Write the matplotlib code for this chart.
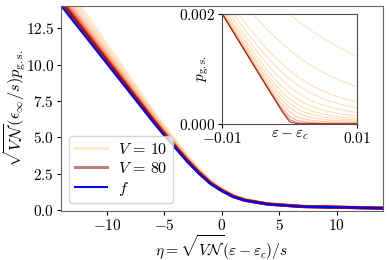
import numpy as np
import matplotlib
matplotlib.use("Agg")
import matplotlib.pyplot as plt

plt.rcParams["mathtext.fontset"] = "cm"
plt.rcParams["font.family"] = "serif"
plt.rcParams["font.serif"] = ["cmr10", "DejaVu Serif"]
plt.rcParams["axes.formatter.use_mathtext"] = True
plt.rcParams["font.size"] = 11

# main panel: eta grid and scaling function f
eta = [-14, -12, -10, -8, -6, -5, -4, -3, -2, -1, 0, 1, 2, 4, 7, 14]
f_vals = [14.05, 12.05, 10.05, 8.05, 6.05, 5.1, 4.2, 3.3, 2.5, 1.8, 1.3, 0.9, 0.65, 0.39, 0.23, 0.12]

# finite-V curves, light (V=10) to dark (V=80)
V_list = [10, 13, 17, 22, 28, 35, 44, 55, 67, 80]
y_V = [
    [15.88, 13.62, 11.36, 9.10, 6.84, 5.76, 4.75, 3.73, 2.83, 2.03, 1.47, 1.02, 0.73, 0.44, 0.26, 0.14],
    [15.46, 13.26, 11.06, 8.86, 6.66, 5.61, 4.62, 3.63, 2.75, 1.98, 1.43, 0.99, 0.72, 0.43, 0.25, 0.13],
    [15.12, 12.97, 10.82, 8.67, 6.51, 5.49, 4.52, 3.55, 2.69, 1.94, 1.40, 0.97, 0.70, 0.42, 0.25, 0.13],
    [14.88, 12.76, 10.64, 8.52, 6.41, 5.40, 4.45, 3.49, 2.65, 1.91, 1.38, 0.95, 0.69, 0.41, 0.24, 0.13],
    [14.70, 12.60, 10.51, 8.42, 6.33, 5.33, 4.39, 3.45, 2.62, 1.88, 1.36, 0.94, 0.68, 0.41, 0.24, 0.13],
    [14.57, 12.50, 10.42, 8.35, 6.27, 5.29, 4.36, 3.42, 2.59, 1.87, 1.35, 0.93, 0.67, 0.40, 0.24, 0.12],
    [14.46, 12.41, 10.35, 8.29, 6.23, 5.25, 4.32, 3.40, 2.57, 1.85, 1.34, 0.93, 0.67, 0.40, 0.24, 0.12],
    [14.38, 12.33, 10.29, 8.24, 6.19, 5.22, 4.30, 3.38, 2.56, 1.84, 1.33, 0.92, 0.67, 0.40, 0.24, 0.12],
    [14.32, 12.28, 10.24, 8.21, 6.17, 5.20, 4.28, 3.36, 2.55, 1.83, 1.33, 0.92, 0.66, 0.40, 0.23, 0.12],
    [14.28, 12.25, 10.21, 8.18, 6.15, 5.18, 4.27, 3.35, 2.54, 1.83, 1.32, 0.91, 0.66, 0.40, 0.23, 0.12],
]

# inset: p_gs (units of 1e-4) vs eps - eps_c (units of 1e-3)
d_eps = [-10, -7.5, -5, -3.5, -2, -1, 0, 1, 2, 3.5, 5, 7.5, 10]
p_inset = [
    [32.36, 28.86, 25.62, 23.80, 22.10, 21.02, 20.0, 19.02, 18.10, 16.80, 15.62, 13.86, 12.36],
    [26.80, 22.94, 19.40, 17.45, 15.65, 14.54, 13.5, 12.54, 11.65, 10.45, 9.40, 7.94, 6.80],
    [24.00, 19.84, 16.00, 13.91, 12.00, 10.85, 9.8, 8.85, 8.00, 6.91, 6.00, 4.84, 4.00],
    [22.93, 18.61, 14.60, 12.42, 10.44, 9.26, 8.2, 7.26, 6.44, 5.42, 4.60, 3.61, 2.93],
    [22.09, 17.62, 13.44, 11.15, 9.09, 7.87, 6.8, 5.87, 5.09, 4.15, 3.44, 2.62, 2.09],
    [21.46, 16.86, 12.51, 10.10, 7.95, 6.69, 5.6, 4.69, 3.95, 3.10, 2.51, 1.86, 1.46],
    [21.01, 16.30, 11.79, 9.28, 7.02, 5.71, 4.6, 3.71, 3.02, 2.28, 1.79, 1.30, 1.01],
    [20.70, 15.91, 11.28, 8.67, 6.29, 4.93, 3.8, 2.93, 2.29, 1.67, 1.28, 0.91, 0.70],
    [20.44, 15.58, 10.83, 8.11, 5.61, 4.16, 3.0, 2.16, 1.61, 1.11, 0.83, 0.58, 0.44],
    [20.24, 15.32, 10.46, 7.63, 4.97, 3.42, 2.2, 1.42, 0.97, 0.63, 0.46, 0.32, 0.24],
    [20.10, 15.13, 10.19, 7.27, 4.44, 2.72, 1.4, 0.72, 0.44, 0.27, 0.19, 0.13, 0.10],
    [20.03, 15.04, 10.06, 7.09, 4.15, 2.28, 0.8, 0.28, 0.15, 0.09, 0.06, 0.04, 0.03],
    [20.01, 15.01, 10.02, 7.02, 4.04, 2.08, 0.4, 0.08, 0.04, 0.02, 0.02, 0.01, 0.01],
]
inset_shade = [0.22, 0.23, 0.24, 0.25, 0.26, 0.27, 0.28, 0.3, 0.33, 0.4, 0.55, 0.75, 1.0]

cmap = plt.get_cmap("OrRd")
main_cols = cmap(np.linspace(0.25, 1.0, len(V_list)))

fig = plt.figure(figsize=(3.89, 2.60), dpi=100)
ax = fig.add_axes([0.157, 0.188, 0.827, 0.790])

for i, (V, yv) in enumerate(zip(V_list, y_V)):
    lab = None
    if i == 0 or i == len(V_list) - 1:
        lab = r"$V\,=\,%d$" % V
    ax.plot(eta, yv, color=main_cols[i], lw=2.2, alpha=0.5, label=lab)
ax.plot(eta, f_vals, color="blue", lw=1.5, label=r"$f$")

ax.set_xlim(-14, 14)
ax.set_ylim(-0.08, 14.05)
ax.set_yticks([0, 2.5, 5, 7.5, 10, 12.5])
ax.set_xticks([-10, -5, 0, 5, 10])
ax.set_xlabel(r"$\eta=\sqrt{V\mathcal{N}}(\varepsilon-\varepsilon_c)/s$", fontsize=11.2)
ax.xaxis.set_label_coords(0.5, -0.106)
ax.set_ylabel(r"$\sqrt{V\mathcal{N}}(\epsilon_\infty/s)p_{\rm g.s.}$", fontsize=11.8)
ax.yaxis.set_label_coords(-0.102, 0.5)
ax.tick_params(direction="out", length=3, width=0.8, pad=2)
for sp in ax.spines.values():
    sp.set_color("0.4")
ax.legend(loc="lower left", framealpha=0.8, fontsize=11.5, handlelength=2.0,
          borderpad=0.35, labelspacing=0.25, handletextpad=0.7,
          bbox_to_anchor=(0.0, 0.0))

# inset
axi = fig.add_axes([0.5715, 0.523, 0.3455, 0.422])
x_in = np.array(d_eps) * 1e-3
for i, row in enumerate(p_inset):
    axi.plot(x_in, np.array(row) * 1e-4, color=cmap(inset_shade[i]), lw=0.8, alpha=0.7)
axi.set_xlim(-0.01, 0.01)
axi.set_ylim(0, 0.002)
axi.set_xticks([-0.01, 0.01])
axi.set_yticks([0, 0.002])
axi.set_xlabel(r"$\varepsilon-\varepsilon_c$", fontsize=11, labelpad=-13)
axi.set_ylabel(r"$p_{\rm g.s.}$", fontsize=11, labelpad=-23)
axi.tick_params(direction="out", length=3, width=0.8, pad=2)
for sp in axi.spines.values():
    sp.set_color("0.3")

fig.savefig("out.png", dpi=100)
